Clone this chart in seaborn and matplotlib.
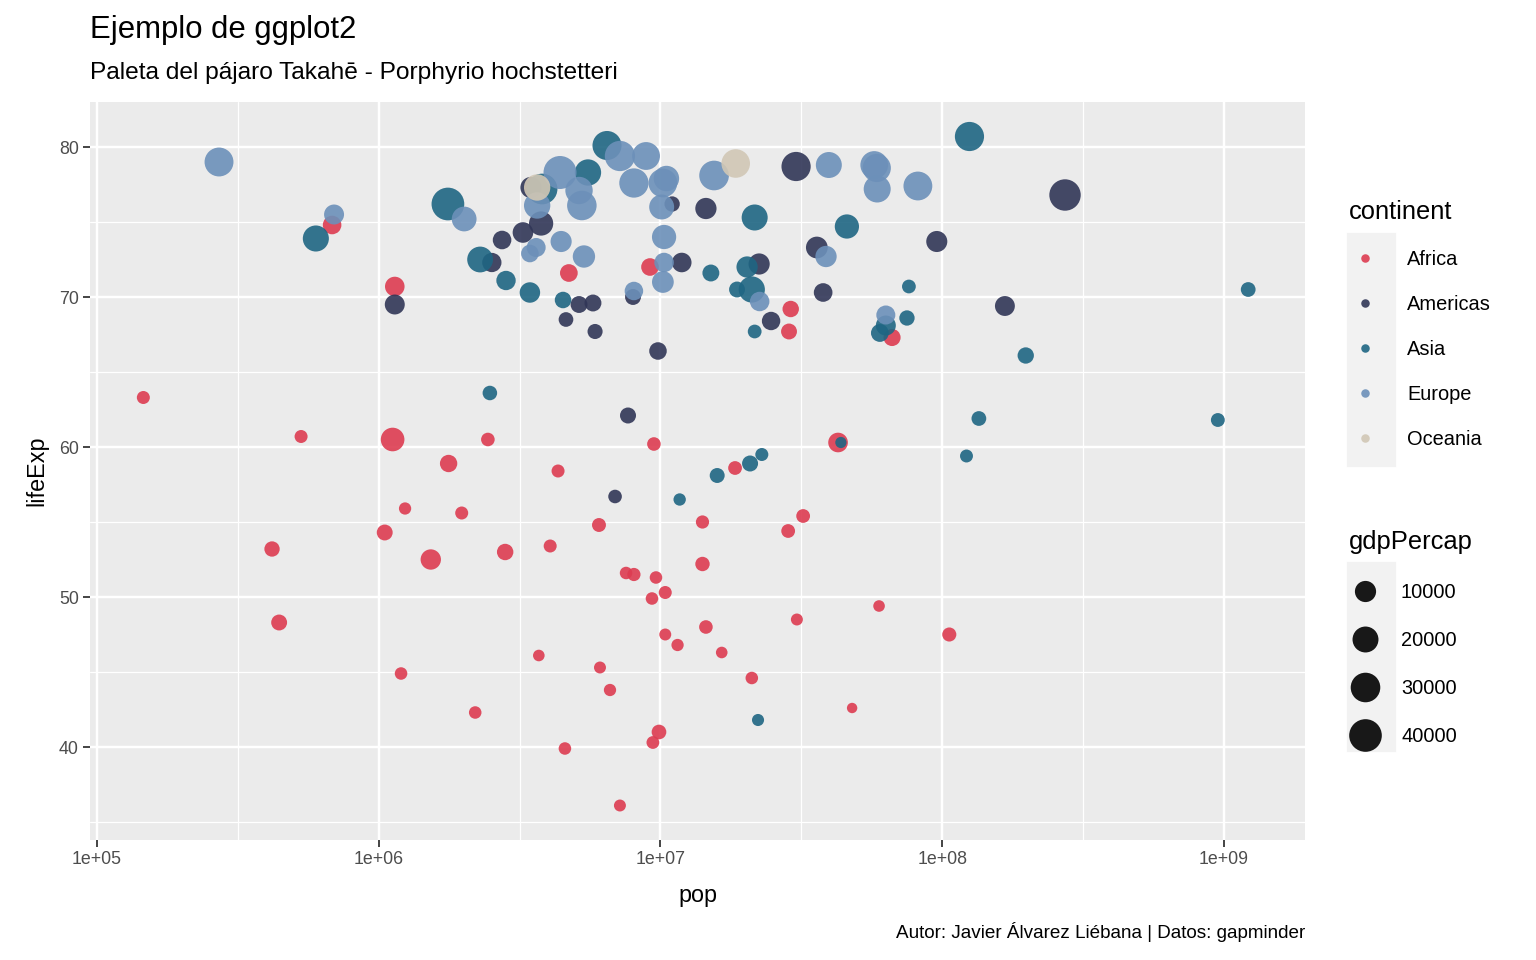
import numpy as np
import pandas as pd
import matplotlib.pyplot as plt
from matplotlib.lines import Line2D
from matplotlib.patches import Rectangle
from matplotlib.ticker import FixedLocator, FuncFormatter
import seaborn as sns

# -------------------- Data (gapminder) --------------------
africa_pop = [1.46e5, 5.30e5, 4.18e5, 4.43e5, 6.83e5, 1.14e6, 1.12e6, 1.05e6, 1.24e6, 1.20e6,
              1.53e6, 1.77e6, 1.97e6, 2.20e6, 2.44e6, 2.81e6, 3.70e6, 4.06e6, 4.33e6, 4.58e6,
              4.73e6, 6.05e6, 6.10e6, 6.62e6, 7.18e6, 7.55e6, 8.05e6, 9.18e6, 9.48e6, 9.64e6,
              1.04e7, 9.33e6, 1.04e7, 1.15e7, 9.88e6, 9.40e6, 1.41e7, 1.41e7, 1.45e7, 1.65e7,
              1.84e7, 2.11e7, 2.84e7, 2.86e7, 2.90e7, 3.05e7, 3.21e7, 4.27e7, 4.79e7, 5.97e7,
              6.64e7, 1.06e8]
africa_life = [63.3, 60.7, 53.2, 48.3, 74.8, 70.7, 60.5, 54.3, 55.9, 44.9,
               52.5, 58.9, 55.6, 42.3, 60.5, 53.0, 46.1, 53.4, 58.4, 39.9,
               71.6, 54.8, 45.3, 43.8, 36.1, 51.6, 51.5, 72.0, 60.2, 51.3,
               50.3, 49.9, 47.5, 46.8, 41.0, 40.3, 55.0, 52.2, 48.0, 46.3,
               58.6, 44.6, 54.4, 67.7, 69.2, 48.5, 55.4, 60.3, 42.6, 49.4,
               67.3, 47.5]
africa_gdp = [1000, 1000, 2500, 3000, 6000, 7400, 14700, 3000, 700, 800,
              8600, 4500, 1000, 800, 1300, 3500, 500, 1000, 1000, 800,
              4900, 1500, 600, 700, 600, 800, 1100, 4800, 1300, 800,
              1000, 800, 600, 700, 2000, 900, 1100, 1800, 1300, 500,
              1400, 800, 1400, 3000, 3500, 600, 1400, 7500, 312, 500,
              4200, 1600]

americas_pop = [1.14e6, 2.52e6, 2.74e6, 3.25e6, 3.47e6, 3.77e6, 4.62e6, 5.14e6, 5.76e6, 5.86e6,
                6.90e6, 7.67e6, 7.99e6, 9.80e6, 1.10e7, 1.19e7, 1.45e7, 2.24e7, 2.47e7, 3.03e7,
                3.59e7, 3.78e7, 9.57e7, 1.67e8, 2.73e8]
americas_life = [69.5, 72.3, 73.8, 74.3, 77.3, 74.9, 68.5, 69.5, 69.6, 67.7,
                 56.7, 62.1, 70.0, 66.4, 76.2, 72.3, 75.9, 72.2, 68.4, 78.7,
                 73.3, 70.3, 73.7, 69.4, 76.8]
americas_gdp = [8000, 7000, 6000, 9000, 10000, 16000, 2000, 4000, 4000, 2300,
                1300, 3100, 3000, 4700, 2500, 7400, 10100, 10000, 5800, 28900,
                10970, 6100, 9800, 7900, 35800]

asia_pop = [5.98e5, 1.76e6, 2.29e6, 2.48e6, 2.83e6, 3.44e6, 3.80e6, 4.51e6, 5.53e6, 6.46e6,
            1.17e7, 1.51e7, 1.59e7, 1.87e7, 2.03e7, 2.08e7, 2.11e7, 2.16e7, 2.16e7, 2.22e7,
            2.29e7, 4.37e7, 4.59e7, 6.01e7, 6.31e7, 7.50e7, 7.62e7, 1.22e8, 1.25e8, 1.35e8,
            1.98e8, 9.52e8, 1.22e9]
asia_life = [73.9, 76.2, 72.5, 63.6, 71.1, 70.3, 77.2, 69.8, 78.3, 80.1,
             56.5, 71.6, 58.1, 70.5, 72.0, 58.9, 70.5, 75.3, 67.7, 41.8,
             59.5, 60.3, 74.7, 67.6, 68.1, 68.6, 70.7, 59.4, 80.7, 61.9,
             66.1, 61.8, 70.5]
asia_gdp = [20300, 40300, 19700, 1900, 7100, 8800, 33500, 3600, 20900, 28400,
            730, 4000, 2200, 3000, 10100, 3100, 20600, 20200, 1400, 635,
            1010, 415, 15990, 5000, 8000, 2500, 1400, 970, 28800, 2050,
            3400, 1460, 2050]

europe_pop = [2.71e5, 6.94e5, 2.01e6, 3.44e6, 3.62e6, 3.65e6, 4.40e6, 5.14e6, 5.26e6, 4.44e6,
              5.35e6, 7.18e6, 8.89e6, 8.05e6, 1.02e7, 1.05e7, 1.01e7, 1.03e7, 1.03e7, 1.02e7,
              8.05e6, 1.55e7, 3.96e7, 5.74e7, 5.86e7, 5.88e7, 8.20e7, 3.87e7, 2.25e7, 6.31e7]
europe_life = [79.0, 75.5, 75.2, 72.9, 73.3, 76.1, 78.3, 77.1, 76.1, 73.7,
               72.7, 79.4, 79.4, 77.6, 77.6, 77.9, 76.0, 74.0, 72.3, 71.0,
               70.4, 78.1, 78.8, 78.8, 78.6, 77.2, 77.4, 72.7, 69.7, 68.8]
europe_gdp = [28000, 8000, 17200, 4800, 6600, 21000, 41300, 23700, 29800, 9900,
              12100, 32100, 25000, 29100, 27500, 18700, 17600, 16000, 7300, 11000,
              5900, 30250, 20100, 24700, 25900, 22700, 27800, 10200, 7300, 6600]

oceania_pop = [3.65e6, 1.85e7]
oceania_life = [77.3, 78.9]
oceania_gdp = [21050, 27000]

continents = ["Africa", "Americas", "Asia", "Europe", "Oceania"]
palette = ["#DD3C51", "#313657", "#1F6683", "#6C90B9", "#D1C7B5"]
gdp_breaks = [10000, 20000, 30000, 40000]

df = pd.concat([
    pd.DataFrame({"pop": p, "lifeExp": l, "gdpPercap": g, "continent": c})
    for p, l, g, c in [(africa_pop, africa_life, africa_gdp, "Africa"),
                       (americas_pop, americas_life, americas_gdp, "Americas"),
                       (asia_pop, asia_life, asia_gdp, "Asia"),
                       (europe_pop, europe_life, europe_gdp, "Europe"),
                       (oceania_pop, oceania_life, oceania_gdp, "Oceania")]
], ignore_index=True)

DPI = 160
gmin, gmax = 300, 41300


def marker_px(g):
    # ggplot-like area scale: diameter grows with sqrt of rescaled value
    return 10 + 23 * np.sqrt(max(g - gmin, 0) / (gmax - gmin))


def marker_area(g):
    return (marker_px(g) * 72 / DPI) ** 2


size_map = {g: marker_area(g) for g in df["gdpPercap"].unique()}

# -------------------- Plot --------------------
sns.set_theme(style="darkgrid")
plt.rcParams["font.family"] = ["Liberation Sans", "DejaVu Sans"]
plt.rcParams["text.color"] = "black"
plt.rcParams["axes.labelcolor"] = "black"

fig = plt.figure(figsize=(1536 / DPI, 960 / DPI), dpi=DPI)
ax = fig.add_axes([90 / 1536, 120 / 960, 1215 / 1536, 738 / 960])
ax.set_facecolor("#EBEBEB")

sns.scatterplot(data=df, x="pop", y="lifeExp", hue="continent", hue_order=continents,
                palette=palette, size="gdpPercap", sizes=size_map, alpha=0.9,
                linewidth=0, legend=False, ax=ax)

ax.set_xscale("log")
ax.set_xlim(10 ** 4.975, 10 ** 9.288)
ax.set_ylim(33.8, 83.0)

ax.xaxis.set_major_locator(FixedLocator([1e5, 1e6, 1e7, 1e8, 1e9]))
ax.xaxis.set_minor_locator(FixedLocator([10 ** (k + 0.5) for k in range(4, 10)]))
ax.xaxis.set_major_formatter(FuncFormatter(lambda v, _: "1e+%02d" % round(np.log10(v))))
ax.yaxis.set_major_locator(FixedLocator([40, 50, 60, 70, 80]))
ax.yaxis.set_minor_locator(FixedLocator([35, 45, 55, 65, 75]))

ax.grid(which="major", color="white", linewidth=1.1)
ax.grid(which="minor", color="white", linewidth=0.55)
for s in ax.spines.values():
    s.set_visible(False)
ax.tick_params(which="major", length=3, width=0.8, color="#333333",
               labelsize=8, labelcolor="#4D4D4D", pad=2, bottom=True, left=True)
ax.tick_params(which="minor", length=0)

ax.set_xlabel("pop", fontsize=10.5, color="black", labelpad=7)
ax.set_ylabel("lifeExp", fontsize=10.5, color="black", labelpad=5)

fig.text(90 / 1536, 1 - 30 / 960, "Ejemplo de ggplot2", fontsize=14, va="center", ha="left",
         color="black")
fig.text(90 / 1536, 1 - 73 / 960, "Paleta del pájaro Takahē - Porphyrio hochstetteri",
         fontsize=11, va="center", ha="left", color="black")
fig.text(1305 / 1536, 1 - 932 / 960, "Autor: Javier Álvarez Liébana | Datos: gapminder",
         fontsize=8.5, va="center", ha="right", color="black")

# -------------------- Legends --------------------
key_bg = "#F2F2F2"
fig.patches.append(Rectangle((1348 / 1536, 1 - 466 / 960), 47 / 1536, 232 / 960,
                             transform=fig.transFigure, color=key_bg, zorder=0))
fig.patches.append(Rectangle((1348 / 1536, 1 - 751 / 960), 47 / 1536, 188 / 960,
                             transform=fig.transFigure, color=key_bg, zorder=0))

cont_handles = [Line2D([], [], marker="o", linestyle="", color=c, alpha=0.9,
                       markersize=8.5 * 72 / DPI, markeredgewidth=0) for c in palette]
leg1 = fig.legend(cont_handles, continents, title="continent", loc="upper left",
                  bbox_to_anchor=(1341 / 1536, 1 - 192 / 960), frameon=False,
                  alignment="left", fontsize=9, title_fontsize=11.5, labelspacing=1.3,
                  handletextpad=1.3, borderaxespad=0, handlelength=1.6)

gdp_handles = [Line2D([], [], marker="o", linestyle="", color="black", alpha=0.9,
                      markersize=marker_px(g) * 72 / DPI, markeredgewidth=0) for g in gdp_breaks]
leg2 = fig.legend(gdp_handles, [str(g) for g in gdp_breaks], title="gdpPercap", loc="upper left",
                  bbox_to_anchor=(1341 / 1536, 1 - 522 / 960), frameon=False,
                  alignment="left", fontsize=9, title_fontsize=11.5, labelspacing=1.45,
                  handletextpad=1.0, borderaxespad=0, handlelength=1.6)

fig.savefig("out.png", dpi=DPI, facecolor="white")
